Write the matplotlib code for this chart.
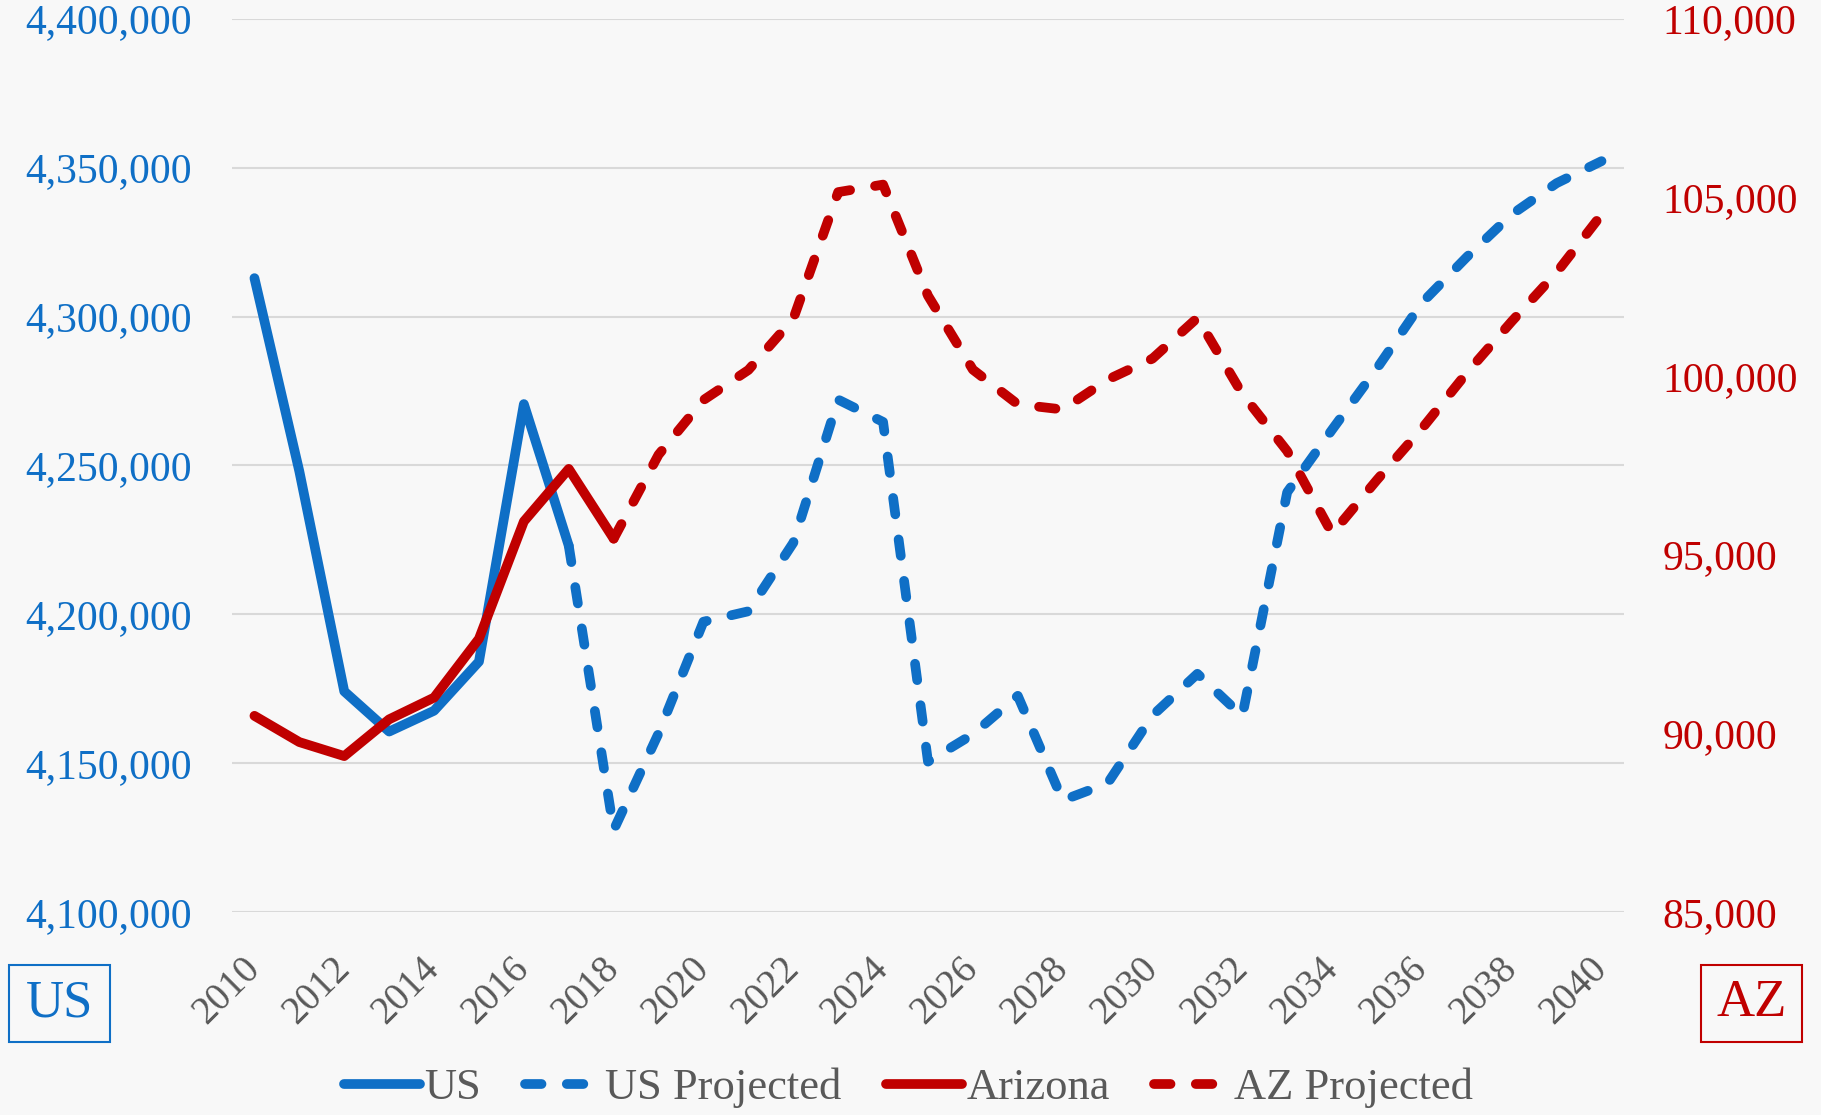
import matplotlib
matplotlib.use("Agg")
import matplotlib.pyplot as plt
from matplotlib.patches import Rectangle
from matplotlib.ticker import FuncFormatter, MultipleLocator

# data
us_years = list(range(2010, 2018))
us_values = [4312900, 4248000, 4174100, 4160600, 4167600, 4184100, 4270600, 4223000]

us_proj_years = list(range(2017, 2041))
us_proj_values = [4223000, 4127500, 4160000, 4197500, 4201000, 4224000, 4272100, 4264600,
                  4150500, 4159700, 4172600, 4137500, 4143200, 4166000, 4180000, 4165800,
                  4241000, 4262000, 4282600, 4304600, 4320000, 4334300, 4344800, 4352200]

az_years = list(range(2010, 2019))
az_values = [90490, 89755, 89363, 90392, 91000, 92647, 95931, 97402, 95450]

az_proj_years = list(range(2018, 2041))
az_proj_values = [95450, 97800, 99330, 100170, 101600, 105150, 105360, 102250, 100180,
                  99210, 99065, 99900, 100490, 101630, 99500, 97900, 95590, 97095,
                  98530, 100090, 101530, 102900, 104520]

x_ticks = list(range(2010, 2041, 2))

blue = "#0F6FC6"
red = "#C00000"
gray = "#595959"
font = "Liberation Serif"

plt.rcParams["font.family"] = [font, "DejaVu Serif"]

fig = plt.figure(figsize=(18.21, 11.15), dpi=100)
fig.patch.set_facecolor("#F8F8F8")
ax = fig.add_axes([0.1274, 0.1821, 0.7644, 0.801])
ax.set_facecolor("none")
ax2 = ax.twinx()

lw = 7
dash = (1.7, 2.6)

l1, = ax.plot(us_years, us_values, color=blue, lw=lw, solid_capstyle="round",
              solid_joinstyle="round", label="US")
l2, = ax.plot(us_proj_years, us_proj_values, color=blue, lw=lw, dashes=dash,
              dash_capstyle="round", dash_joinstyle="round", label="US Projected")
l3, = ax2.plot(az_years, az_values, color=red, lw=lw, solid_capstyle="round",
               solid_joinstyle="round", label="Arizona")
l4, = ax2.plot(az_proj_years, az_proj_values, color=red, lw=lw, dashes=dash,
               dash_capstyle="round", dash_joinstyle="round", label="AZ Projected")

ax.set_xlim(2009.5, 2040.5)
ax.set_ylim(4100000, 4400000)
ax2.set_ylim(85000, 110000)
ax.yaxis.set_major_locator(MultipleLocator(50000))
ax2.yaxis.set_major_locator(MultipleLocator(5000))
fmt = FuncFormatter(lambda v, p: f"{int(round(v)):,}")
ax.yaxis.set_major_formatter(fmt)
ax2.yaxis.set_major_formatter(fmt)
ax.set_xticks(x_ticks)

ax.grid(axis="y", color="#D9D9D9", lw=1.5)
ax.set_axisbelow(True)
for a in (ax, ax2):
    for s in a.spines.values():
        s.set_visible(False)

ax.tick_params(axis="y", length=0, pad=29, labelsize=30, labelcolor=blue)
ax2.tick_params(axis="y", length=0, pad=28, labelsize=30, labelcolor=red)
ax.tick_params(axis="x", length=0, pad=37, labelsize=28, labelcolor=gray)
for t in ax.get_xticklabels():
    t.set_rotation(45)
    t.set_ha("right")
    t.set_va("center")
    t.set_rotation_mode("anchor")

fig.legend(handles=[l1, l2, l3, l4], loc="center", bbox_to_anchor=(0.499, 0.024),
           ncol=4, frameon=False, fontsize=32, labelcolor=gray, handlelength=1.7,
           handletextpad=0.1, columnspacing=1.0, borderaxespad=0)

# axis name boxes
for x0, txt, col in [(0.00494, "US", blue), (0.9341, "AZ", red)]:
    fig.add_artist(Rectangle((x0, 0.0655), 0.0555, 0.0691, transform=fig.transFigure,
                             fill=False, edgecolor=col, lw=1.5))
    fig.text(x0 + 0.0555 / 2, 0.0655 + 0.0691 / 2, txt, color=col, fontsize=38,
             ha="center", va="center")

fig.savefig("out.png", dpi=100, facecolor=fig.get_facecolor())
